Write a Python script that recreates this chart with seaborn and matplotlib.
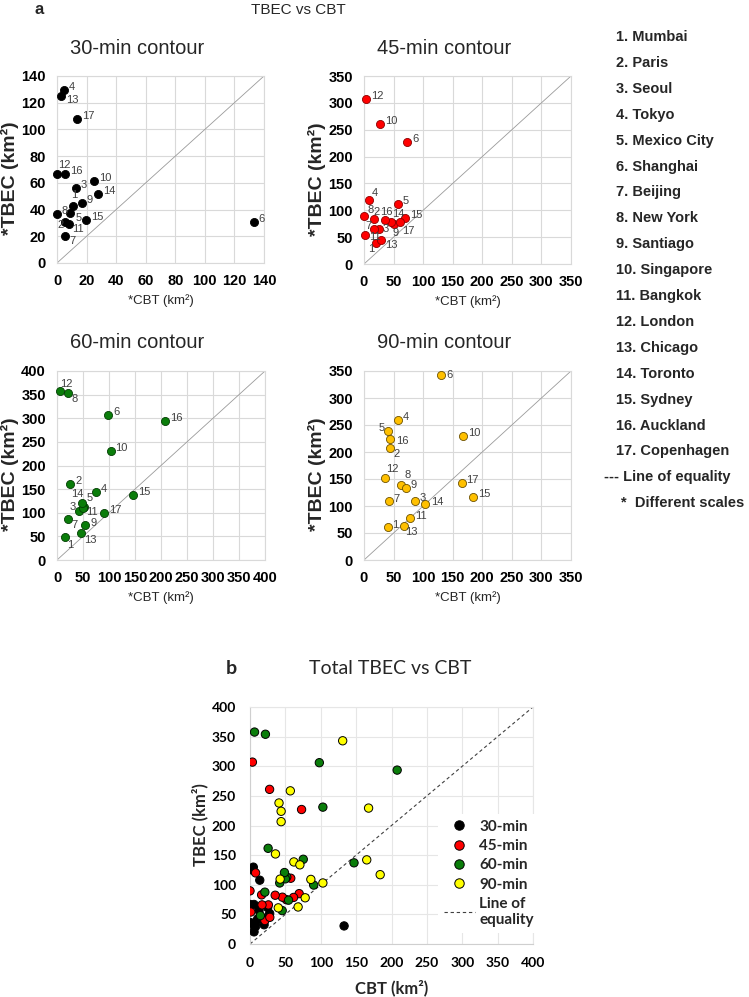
"""
TBEC vs CBT scatter panels (30/45/60/90-min contours) plus a combined panel.
"""

import matplotlib
matplotlib.use("Agg")
import matplotlib.pyplot as plt
from matplotlib.lines import Line2D
import numpy as np
import pandas as pd
import seaborn as sns

sns.set_style("white")
plt.rcParams["font.family"] = ["Liberation Sans", "DejaVu Sans"]

W, H = 749, 997

CITIES = ["Mumbai", "Paris", "Seoul", "Tokyo", "Mexico City", "Shanghai", "Beijing",
          "New York", "Santiago", "Singapore", "Bangkok", "London", "Chicago",
          "Toronto", "Sydney", "Auckland", "Copenhagen"]
CITY_IDS = list(range(1, 18))

# values in km2, in city order 1..17
CBT_30 = [10.9, 5.7, 12.7, 4.7, 8.6, 133, 5.7, 0, 16.7, 24.9, 7.9, 0, 2.7, 27.8, 19.9, 5.7, 13.8]
TBEC_30 = [42.5, 30.7, 56.5, 129.7, 37.5, 30.5, 20.5, 36.5, 44.7, 61.5, 29.5, 66.7, 125, 51.5, 32.5, 66.7, 107.7]

CBT_45 = [21, 16.4, 26, 7.9, 57.6, 72.9, 17, 0, 51.4, 27.7, 1.1, 3.4, 28, 45.8, 69.5, 35.6, 61.6]
TBEC_45 = [39.6, 82.9, 66, 120, 111, 227, 66, 89.7, 74.8, 261, 54, 307, 45, 79, 85, 82.3, 78.6]

CBT_60 = [14.7, 25.6, 42, 75.3, 52, 98, 21, 21.8, 54.5, 103, 50, 6.4, 45.5, 48.7, 147, 208, 90]
TBEC_60 = [48, 161.5, 103, 143, 113, 306, 87.5, 354, 74, 231, 110, 357.7, 56.4, 120.6, 137, 293.5, 99.5]

CBT_90 = [40, 44, 86, 57, 41, 131, 42.6, 62, 70.5, 167.6, 78, 36, 68, 103, 184, 44, 165]
TBEC_90 = [61, 206.5, 109, 258.5, 238, 343, 109.5, 138.5, 133.6, 229.4, 78, 152, 62.5, 103, 117, 224, 142]

CONTOURS = ["30-min", "45-min", "60-min", "90-min"]

# label offsets (pixels; dx, dy, alignment) where the default upper-right does not fit
OFFSETS_30 = {1: (-2, 11, "left"), 2: (-2, -3, "right"), 5: (6, -5, "left"), 7: (4, -5, "left"),
              11: (3, -5, "left"), 12: (1, 9, "left"), 13: (5, -4, "left")}
OFFSETS_45 = {1: (-2, -6, "right"), 2: (0, 7, "left"), 4: (3, 7, "left"), 7: (-3, 3, "right"),
              8: (3, 6, "left"), 9: (-2, -9, "left"), 11: (4, -2, "left"), 13: (5, -5, "left"),
              14: (1, 8, "left"), 16: (-5, 8, "left"), 17: (2, -9, "left"), 3: (3, 0, "left")}
OFFSETS_60 = {1: (2, -8, "left"), 3: (-3, 4, "right"), 7: (3, -6, "left"), 8: (3, -6, "left"),
              11: (3, -4, "left"), 12: (0, 7, "left"), 13: (3, -7, "left"), 14: (1, 9, "right"),
              5: (3, 9, "left"), 9: (5, 2, "left")}
OFFSETS_90 = {2: (3, -6, "left"), 5: (-4, 3, "right"), 6: (5, 0, "left"), 12: (1, 9, "left"),
              8: (4, 10, "left"), 13: (1, -6, "left"), 16: (6, -2, "left"), 7: (4, 2, "left"),
              1: (4, 2, "left"), 11: (5, 2, "left"), 14: (6, 2, "left")}


def px(x, y):
    return x / W, 1 - y / H


def add_axes(left, top, right, bottom):
    return fig.add_axes([left / W, 1 - bottom / H, (right - left) / W, (bottom - top) / H])


def style_axes(ax, lim, step, tick_font, tick_size, pad_x, pad_y, grid_color):
    ticks = np.arange(0, lim + 1, step)
    ax.set_xlim(0, lim)
    ax.set_ylim(0, lim)
    ax.set_xticks(ticks)
    ax.set_yticks(ticks)
    ax.set_xticklabels([str(int(t)) for t in ticks])
    ax.set_yticklabels([str(int(t)) for t in ticks])
    ax.tick_params(length=0)
    ax.tick_params(axis="x", pad=pad_x)
    ax.tick_params(axis="y", pad=pad_y)
    for lab in ax.get_xticklabels() + ax.get_yticklabels():
        lab.set_fontfamily(tick_font)
        lab.set_fontweight("bold")
        lab.set_fontsize(tick_size)
        lab.set_color("#000000")
    ax.grid(True, color=grid_color, lw=0.8)
    ax.set_axisbelow(True)
    for sp in ax.spines.values():
        sp.set_color(grid_color)
        sp.set_linewidth(0.8)
    ax.set_xlabel("")
    ax.set_ylabel("")


def contour_panel(ax, cbt, tbec, face, edge, lim, step, offsets):
    df = pd.DataFrame({"id": CITY_IDS, "cbt": cbt, "tbec": tbec})
    ax.plot([0, lim], [0, lim], color="#9a9a9a", lw=0.6, zorder=2)
    sns.scatterplot(data=df, x="cbt", y="tbec", ax=ax, color=face, edgecolor=edge,
                    linewidth=0.6, s=34, zorder=3, legend=False, clip_on=False)
    for cid, x, y in zip(df["id"], df["cbt"], df["tbec"]):
        dx, dy, ha = offsets.get(cid, (5, 3, "left"))
        ax.annotate(str(cid), (x, y), xytext=(dx, dy), textcoords="offset pixels",
                    ha=ha, va="center", fontsize=8, color="#404040")
    style_axes(ax, lim, step, ["Liberation Sans", "DejaVu Sans"], 10.5, 8, 8, "#d9d9d9")


fig = plt.figure(figsize=(W / 100, H / 100), dpi=100)

panels = [
    ("30-min contour", (57, 76, 264, 263), CBT_30, TBEC_30, "#000000", "#000000", 140, 20, OFFSETS_30),
    ("45-min contour", (364, 76, 571, 264), CBT_45, TBEC_45, "#ff0000", "#8b0000", 350, 50, OFFSETS_45),
    ("60-min contour", (57, 371, 265, 560), CBT_60, TBEC_60, "#0a7d0a", "#033d03", 400, 50, OFFSETS_60),
    ("90-min contour", (364, 371, 571, 560), CBT_90, TBEC_90, "#ffc000", "#6b5000", 350, 50, OFFSETS_90),
]

for title, box, cbt, tbec, face, edge, lim, step, offs in panels:
    left, top, right, bottom = box
    ax = add_axes(left, top, right, bottom)
    contour_panel(ax, cbt, tbec, face, edge, lim, step, offs)
    # Excel-style titles sit a bit left of the plot centre
    fig.text(*px(left + 80, top - 28), title, ha="center", va="center", fontsize=14.5)
    fig.text(*px(left - 47, (top + bottom) / 2 + 9), "*TBEC (km²)", rotation=90,
             ha="center", va="center", fontsize=14, fontweight="bold")
    fig.text(*px((left + right) / 2, bottom + 38), "*CBT (km²)", ha="center", va="center",
             fontsize=9.5)

fig.text(*px(39, 9), "a", ha="center", va="center", fontsize=12, fontweight="bold")
fig.text(*px(298, 10), "TBEC vs CBT", ha="center", va="center", fontsize=11)

# city key on the right
for i, (cid, name) in enumerate(zip(CITY_IDS, CITIES)):
    fig.text(*px(616, 37 + i * 25.9), f"{cid}. {name}", ha="left", va="center",
             fontsize=10.5, fontweight="bold")
fig.text(*px(604, 477), "--- Line of equality", ha="left", va="center", fontsize=10.5,
         fontweight="bold")
fig.text(*px(621, 503), "*  Different scales", ha="left", va="center", fontsize=10.5,
         fontweight="bold")

# panel b: all contours together
axb = add_axes(250, 707, 533, 944)
long_df = pd.concat([
    pd.DataFrame({"contour": c, "cbt": x, "tbec": y})
    for c, x, y in zip(CONTOURS, [CBT_30, CBT_45, CBT_60, CBT_90], [TBEC_30, TBEC_45, TBEC_60, TBEC_90])
])
palette = {"30-min": "#000000", "45-min": "#ff0000", "60-min": "#0a7d0a", "90-min": "#ffff00"}
axb.plot([0, 400], [0, 400], color="#404040", lw=0.8, ls=(0, (3, 2.5)), zorder=2)
sns.scatterplot(data=long_df, x="cbt", y="tbec", hue="contour", palette=palette, ax=axb,
                edgecolor="#000000", linewidth=0.7, s=36, zorder=3, legend=False)
lato = ["Lato", "Liberation Sans", "DejaVu Sans"]
style_axes(axb, 400, 50, lato, 10, 9, 10, "#e6e6e6")
for sp in ("left", "bottom"):
    axb.spines[sp].set_color("#cfcfcf")

handles = [Line2D([0], [0], marker="o", ls="none", markerfacecolor=palette[c],
                  markeredgecolor="#000000", markeredgewidth=0.7, markersize=6.8) for c in CONTOURS]
handles.append(Line2D([0], [0], color="#404040", lw=0.8, ls=(0, (3, 2.5))))
leg = axb.legend(handles, CONTOURS + ["Line of\nequality"], loc="upper left",
                 bbox_to_anchor=(0.664, 0.55), frameon=True, facecolor="white",
                 edgecolor="none", framealpha=1, borderaxespad=0, handletextpad=0.3,
                 labelspacing=0.35, borderpad=0.4, handlelength=2.0,
                 prop={"family": lato, "weight": "bold", "size": 11})
leg.get_frame().set_boxstyle("square", pad=0)

fig.text(*px(231, 668), "b", ha="center", va="center", fontsize=14, fontweight="bold",
         family=lato)
fig.text(*px(390, 668), "Total TBEC vs CBT", ha="center", va="center", fontsize=14,
         family=lato)
fig.text(*px(200, 825), "TBEC (km²)", rotation=90, ha="center", va="center", fontsize=12,
         fontweight="bold", family=lato)
fig.text(*px(392, 988), "CBT (km²)", ha="center", va="center", fontsize=12,
         fontweight="bold", family=lato)

fig.savefig("out.png", dpi=100)
